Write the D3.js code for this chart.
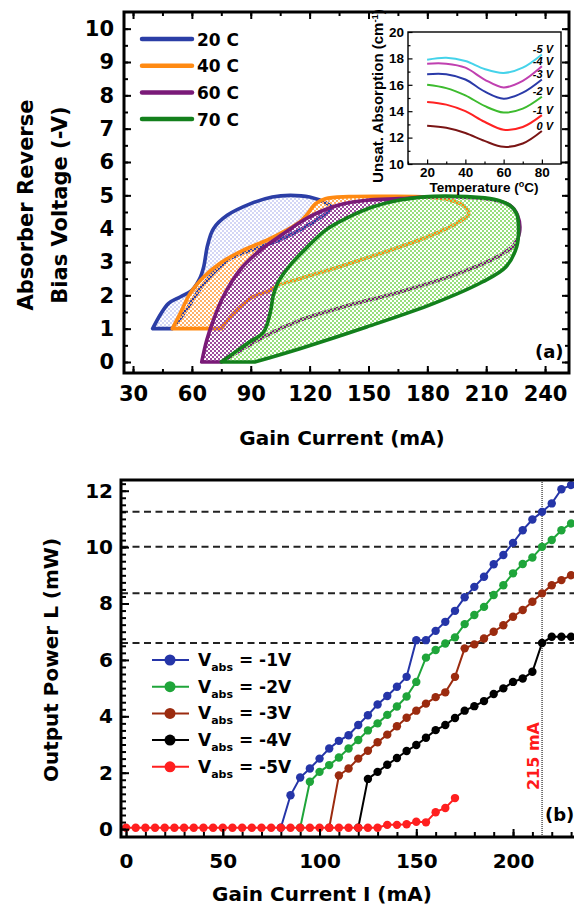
<!DOCTYPE html>
<html><head><meta charset="utf-8">
<script src="https://cdn.jsdelivr.net/npm/d3@7"></script>
<style>html,body{margin:0;padding:0;background:#fff;} svg{display:block;}</style>
</head><body><svg id="c" width="574" height="915"></svg>
<script>
// ---------- Panel (a): operating regions ----------
const tempLabels = ["20 C", "40 C", "60 C", "70 C"];
const tempColors = ["#2b3ea6", "#ff8a12", "#7a1a78", "#13801c"];
const hatchColors = ["#d3d6f5", "#ffb066", "#9c4c9c", "#97df7c"];
// [gain current mA, reverse bias -V] outline points
const region20C = [[50,1],[57,1.55],[63,2.1],[69,2.55],[75,2.9],[81,3.15],[95,3.45],[108,3.75],[122,4.2],[129,4.5],[131,4.65],[128,4.78],[120,4.95],[110,5.0],[101,4.95],[90,4.75],[78,4.4],[71,4.0],[68,3.5],[66,2.85],[64,2.5],[60,2.15],[54,1.95],[48,1.75],[40,1]];
const region40C = [[75,1],[81,1.45],[91,1.95],[100,2.15],[104,2.3],[115,2.5],[140,2.95],[166,3.45],[186,3.9],[196,4.2],[201,4.45],[198,4.7],[190,4.88],[180,4.95],[160,4.97],[140,4.96],[128,4.9],[123,4.75],[119,4.45],[115,4.2],[108,3.95],[98,3.65],[86,3.35],[74,2.95],[66,2.55],[59,2.05],[54,1.45],[50,1]];
const region60C = [[75,0],[98,0.8],[115,1.25],[140,1.7],[166,2.1],[200,2.75],[217,3.2],[224,3.5],[227,3.9],[226,4.4],[222,4.7],[212,4.88],[195,4.95],[180,4.95],[166,4.9],[149,4.85],[135,4.71],[125,4.5],[117,4.26],[107,3.86],[95,3.36],[84.5,2.76],[76,1.96],[71,1.26],[67.6,0.66],[65,0]];
const region70C = [[92,0],[115,0.4],[149,1.05],[183,1.75],[208,2.4],[220,2.85],[225.5,3.45],[226.5,3.95],[225.5,4.45],[222,4.7],[214,4.88],[200,4.96],[183,4.97],[166,4.86],[152,4.65],[140,4.35],[128,3.95],[118,3.4],[110,2.9],[104,2.4],[101.5,2.0],[100,1.5],[96.5,0.9],[88,0.55],[75,0]];
const regions = [region20C, region40C, region60C, region70C];
const topXTicks = [30, 60, 90, 120, 150, 180, 210, 240];
const topYTicks = [0, 1, 2, 3, 4, 5, 6, 7, 8, 9, 10];

// ---------- Inset: unsaturated absorption ----------
const insetTemps = [20, 30, 40, 50, 60, 70, 80];
const insetBias = ["0 V", "-1 V", "-2 V", "-3 V", "-4 V", "-5 V"];
const insetColors = ["#7a1515", "#ff2222", "#3dbb2e", "#2a3aa8", "#c040b0", "#45d3ea"];
const abs0V  = [12.9, 12.75, 12.35, 11.75, 11.3, 11.55, 12.5];
const absM1V = [14.7, 14.5, 14.0, 13.2, 12.6, 12.8, 13.7];
const absM2V = [16.0, 15.75, 15.2, 14.4, 13.9, 14.2, 15.1];
const absM3V = [16.8, 16.8, 16.4, 15.5, 14.95, 15.4, 16.4];
const absM4V = [17.6, 17.6, 17.3, 16.4, 15.8, 16.3, 17.4];
const absM5V = [17.9, 18.05, 17.8, 17.2, 16.9, 17.3, 18.3];
const insetSeries = [abs0V, absM1V, absM2V, absM3V, absM4V, absM5V];
const insetXTicks = [20, 40, 60, 80];
const insetYTicks = [10, 12, 14, 16, 18, 20];

// ---------- Panel (b): L-I curves ----------
const gainCurrent = [0,5,10,15,20,25,30,35,40,45,50,55,60,65,70,75,80,85,90,95,100,105,110,115,120,125,130,135,140,145,150,155,160,165,170,175,180,185,190,195,200,205,210,215,220,225,230];
const seriesNames = ["-1V", "-2V", "-3V", "-4V", "-5V"];
const seriesColors = ["#2535a8", "#1fa53a", "#9b2b0f", "#000000", "#ff1f1f"];
const seriesStart = [80, 90, 105, 120, 0];
const powerM1V = [0.05,1.2,1.83,2.15,2.5,2.86,3.13,3.33,3.69,4.04,4.42,4.72,5.05,5.4,6.7,6.7,7.03,7.35,7.74,8.22,8.59,8.95,9.39,9.72,10.15,10.6,10.98,11.25,11.55,12.05,12.2];
const powerM2V = [0.05,1.68,2.03,2.27,2.54,2.86,3.16,3.5,3.75,4.05,4.35,4.7,5.22,6.08,6.35,6.58,6.8,7.27,7.59,7.88,8.3,8.65,9.07,9.4,9.63,10.01,10.25,10.6,10.84];
const powerM3V = [0.05,1.9,2.15,2.5,2.78,3.08,3.35,3.65,3.95,4.2,4.45,4.68,4.85,5.4,6.41,6.55,6.76,7.0,7.23,7.53,7.77,8.06,8.36,8.65,8.83,9.0];
const powerM4V = [0.05,1.78,2.03,2.28,2.52,2.77,2.98,3.24,3.51,3.69,3.94,4.2,4.36,4.54,4.79,4.99,5.22,5.34,5.58,6.6,6.82,6.82,6.82];
const powerM5V = [0.05,0.05,0.05,0.05,0.05,0.05,0.05,0.05,0.05,0.05,0.05,0.05,0.05,0.05,0.05,0.05,0.05,0.05,0.05,0.05,0.05,0.05,0.05,0.05,0.05,0.05,0.05,0.15,0.15,0.17,0.26,0.24,0.6,0.75,1.1];
const powerSeries = [powerM1V, powerM2V, powerM3V, powerM4V, powerM5V];
const bottomXTicks = [0, 50, 100, 150, 200];
const bottomYTicks = [0, 2, 4, 6, 8, 10, 12];
const markerCurrent = 215;

// ================= drawing =================
const svg = d3.select("#c");
const HEAVY = "'DejaVu Sans', sans-serif";
const ARIAL = "'Liberation Sans', Arial, sans-serif";

// patterns
const defs = svg.append("defs");
hatchColors.forEach((c, i) => {
  const p = defs.append("pattern").attr("id", "hatch" + i).attr("width", 4).attr("height", 4)
    .attr("patternUnits", "userSpaceOnUse");
  p.append("rect").attr("x", 0).attr("y", 0).attr("width", 2).attr("height", 2).attr("fill", c);
  p.append("rect").attr("x", 2).attr("y", 2).attr("width", 2).attr("height", 2).attr("fill", c);
});

// ---- panel (a) ----
const ax = d3.scaleLinear().domain([25.4, 252.2]).range([124, 569]);
const ay = d3.scaleLinear().domain([-0.33, 10.5]).range([373, 12]);
const gA = svg.append("g");

const regionLine = d3.line().x(d => ax(d[0])).y(d => ay(d[1])).curve(d3.curveCatmullRom.alpha(0.5));
regions.forEach((r, i) => {
  gA.append("path").attr("d", regionLine(r) + "Z").attr("fill", "url(#hatch" + i + ")").attr("stroke", "none");
  gA.append("path").attr("d", regionLine(r) + "Z").attr("fill", "none")
    .attr("stroke", tempColors[i]).attr("stroke-width", 3.6).attr("stroke-linejoin", "round");
});

function styleAxis(g, size, family) {
  g.select(".domain").remove();
  g.selectAll(".tick line").attr("stroke", "#000").attr("stroke-width", 2);
  g.selectAll("text").attr("font-family", family).attr("font-weight", "bold").attr("font-size", size).attr("fill", "#000");
}
const minorX = d3.range(30, 241, 15), minorY = d3.range(0, 10.01, 0.5);
gA.append("g").attr("transform", "translate(0,373)").call(d3.axisBottom(ax).tickValues(minorX).tickSize(-4).tickFormat("")).call(g => styleAxis(g, 0, HEAVY));
gA.append("g").attr("transform", "translate(0,373)").call(d3.axisBottom(ax).tickValues(topXTicks).tickSize(-7).tickPadding(13)).call(g => styleAxis(g, "21px", HEAVY));
gA.append("g").attr("transform", "translate(0,12)").call(d3.axisTop(ax).tickValues(minorX).tickSize(-4).tickFormat("")).call(g => styleAxis(g, 0, HEAVY));
gA.append("g").attr("transform", "translate(0,12)").call(d3.axisTop(ax).tickValues(topXTicks).tickSize(-7).tickFormat("")).call(g => styleAxis(g, 0, HEAVY));
gA.append("g").attr("transform", "translate(124,0)").call(d3.axisLeft(ay).tickValues(minorY).tickSize(-4).tickFormat("")).call(g => styleAxis(g, 0, HEAVY));
gA.append("g").attr("transform", "translate(124,0)").call(d3.axisLeft(ay).tickValues(topYTicks).tickSize(-7).tickPadding(10)).call(g => styleAxis(g, "21px", HEAVY));
gA.append("g").attr("transform", "translate(569,0)").call(d3.axisRight(ay).tickValues(minorY).tickSize(-4).tickFormat("")).call(g => styleAxis(g, 0, HEAVY));
gA.append("g").attr("transform", "translate(569,0)").call(d3.axisRight(ay).tickValues(topYTicks).tickSize(-7).tickFormat("")).call(g => styleAxis(g, 0, HEAVY));
gA.append("rect").attr("x", 124).attr("y", 12).attr("width", 445).attr("height", 361)
  .attr("fill", "none").attr("stroke", "#000").attr("stroke-width", 3);

// legend (a)
tempLabels.forEach((t, i) => {
  const yy = 39 + i * 26.7;
  gA.append("line").attr("x1", 142).attr("x2", 192).attr("y1", yy).attr("y2", yy)
    .attr("stroke", tempColors[i]).attr("stroke-width", 4.5).attr("stroke-linecap", "round");
  gA.append("text").attr("x", 197).attr("y", yy + 6.5).text(t)
    .attr("font-family", HEAVY).attr("font-weight", "bold").attr("font-size", "17px");
});

// axis titles (a)
gA.append("text").attr("transform", "translate(33,205) rotate(-90)").attr("text-anchor", "middle")
  .attr("font-family", HEAVY).attr("font-weight", "bold").attr("font-size", "21px").text("Absorber Reverse");
gA.append("text").attr("transform", "translate(67,205) rotate(-90)").attr("text-anchor", "middle")
  .attr("font-family", HEAVY).attr("font-weight", "bold").attr("font-size", "21px").text("Bias Voltage (-V)");
gA.append("text").attr("x", 342).attr("y", 445).attr("text-anchor", "middle")
  .attr("font-family", HEAVY).attr("font-weight", "bold").attr("font-size", "20px").text("Gain Current (mA)");
gA.append("text").attr("x", 535).attr("y", 358)
  .attr("font-family", HEAVY).attr("font-weight", "bold").attr("font-size", "18px").text("(a)");

// ---- inset ----
const ix = d3.scaleLinear().domain([10, 90]).range([408, 561]);
const iy = d3.scaleLinear().domain([10, 20]).range([164, 32]);
const gI = svg.append("g");
gI.append("rect").attr("x", 408).attr("y", 32).attr("width", 153).attr("height", 132).attr("fill", "#fff");
const insetLine = d3.line().x((d, i) => ix(insetTemps[i])).y(d => iy(d)).curve(d3.curveCatmullRom.alpha(0.5));
insetSeries.forEach((s, i) => {
  gI.append("path").attr("d", insetLine(s)).attr("fill", "none").attr("stroke", insetColors[i]).attr("stroke-width", 2);
  gI.append("text").attr("x", 553).attr("y", iy(s[s.length - 1]) - 1.5).attr("text-anchor", "end")
    .attr("font-family", ARIAL).attr("font-weight", "bold").attr("font-style", "italic").attr("font-size", "11px")
    .text(insetBias[i]);
});
function styleInset(g) {
  g.select(".domain").remove();
  g.selectAll(".tick line").attr("stroke", "#000").attr("stroke-width", 1.2);
  g.selectAll("text").attr("font-family", ARIAL).attr("font-weight", "bold").attr("font-size", "13.5px").attr("fill", "#000");
}
gI.append("g").attr("transform", "translate(0,164)").call(d3.axisBottom(ix).tickValues([10,30,50,70,90]).tickSize(-2.5).tickFormat("")).call(styleInset);
gI.append("g").attr("transform", "translate(0,164)").call(d3.axisBottom(ix).tickValues(insetXTicks).tickSize(-4.5).tickPadding(3)).call(styleInset);
gI.append("g").attr("transform", "translate(408,0)").call(d3.axisLeft(iy).tickValues([11,13,15,17,19]).tickSize(-2.5).tickFormat("")).call(styleInset);
gI.append("g").attr("transform", "translate(408,0)").call(d3.axisLeft(iy).tickValues(insetYTicks).tickSize(-4.5).tickPadding(4)).call(styleInset);
gI.append("rect").attr("x", 408).attr("y", 32).attr("width", 153).attr("height", 132)
  .attr("fill", "none").attr("stroke", "#000").attr("stroke-width", 1.4);
const xl = gI.append("text").attr("x", 484).attr("y", 192).attr("text-anchor", "middle")
  .attr("font-family", ARIAL).attr("font-weight", "bold").attr("font-size", "13.5px");
xl.append("tspan").text("Temperature (");
xl.append("tspan").attr("dy", -5).attr("font-size", "9px").text("o");
xl.append("tspan").attr("dy", 5).text("C)");
const yl = gI.append("text").attr("transform", "translate(383,96) rotate(-90)").attr("text-anchor", "middle")
  .attr("font-family", ARIAL).attr("font-weight", "bold").attr("font-size", "15px");
yl.append("tspan").text("Unsat. Absorption (cm");
yl.append("tspan").attr("dy", -5).attr("font-size", "9.5px").text("-1");
yl.append("tspan").attr("dy", 5).text(")");

// ---- panel (b) ----
const bx = d3.scaleLinear().domain([-2.6, 231.5]).range([121, 574]);
const by = d3.scaleLinear().domain([-0.28, 12.38]).range([837, 480]);
const gB = svg.append("g");

const refIdx = gainCurrent.indexOf(markerCurrent);
[0, 1, 2, 3].forEach(k => {
  const v = powerSeries[k][refIdx - gainCurrent.indexOf(seriesStart[k])];
  gB.append("line").attr("x1", 121).attr("x2", 574).attr("y1", by(v)).attr("y2", by(v))
    .attr("stroke", "#222").attr("stroke-width", 2).attr("stroke-dasharray", "7,4.5");
});
gB.append("line").attr("x1", bx(markerCurrent)).attr("x2", bx(markerCurrent)).attr("y1", 480).attr("y2", 837)
  .attr("stroke", "#444").attr("stroke-width", 1.4).attr("stroke-dasharray", "1,1");

const lLine = d3.line().x(d => bx(d[0])).y(d => by(d[1]));
[3, 2, 1, 0, 4].forEach(k => {
  const off = gainCurrent.indexOf(seriesStart[k]);
  const pts = powerSeries[k].map((v, i) => [gainCurrent[off + i], v]);
  const g = gB.append("g");
  g.append("path").attr("d", lLine(pts)).attr("fill", "none").attr("stroke", seriesColors[k]).attr("stroke-width", 2);
  g.selectAll("circle").data(pts).enter().append("circle")
    .attr("cx", d => bx(d[0])).attr("cy", d => by(d[1])).attr("r", 4.2).attr("fill", seriesColors[k]);
});

function styleB(g, size) {
  g.select(".domain").remove();
  g.selectAll(".tick line").attr("stroke", "#000").attr("stroke-width", 2);
  g.selectAll("text").attr("font-family", HEAVY).attr("font-weight", "bold").attr("font-size", size).attr("fill", "#000");
}
gB.append("g").attr("transform", "translate(0,837)").call(d3.axisBottom(bx).tickValues(d3.range(0, 231, 10)).tickSize(-5).tickFormat("")).call(g => styleB(g, 0));
gB.append("g").attr("transform", "translate(0,837)").call(d3.axisBottom(bx).tickValues(bottomXTicks).tickSize(-8).tickPadding(17)).call(g => styleB(g, "20px"));
gB.append("g").attr("transform", "translate(121,0)").call(d3.axisLeft(by).tickValues(d3.range(0, 12.3, 0.25)).tickSize(-5).tickFormat("")).call(g => styleB(g, 0));
gB.append("g").attr("transform", "translate(121,0)").call(d3.axisLeft(by).tickValues(bottomYTicks).tickSize(-8).tickPadding(8)).call(g => styleB(g, "20px"));
gB.append("path").attr("d", "M574,480H121V837H574").attr("fill", "none").attr("stroke", "#000").attr("stroke-width", 3);

// legend (b)
seriesNames.forEach((n, i) => {
  const yy = 660 + i * 26.7;
  gB.append("line").attr("x1", 152).attr("x2", 189).attr("y1", yy).attr("y2", yy).attr("stroke", seriesColors[i]).attr("stroke-width", 2);
  gB.append("circle").attr("cx", 170).attr("cy", yy).attr("r", 5.5).attr("fill", seriesColors[i]);
  const t = gB.append("text").attr("x", 198).attr("y", yy + 6).attr("font-family", HEAVY).attr("font-weight", "bold").attr("font-size", "17px");
  t.append("tspan").text("V");
  t.append("tspan").attr("dy", 5).attr("font-size", "11px").text("abs");
  t.append("tspan").attr("dy", -5).text(" = " + n);
});

gB.append("text").attr("transform", "translate(" + (bx(markerCurrent) - 3) + ",756) rotate(-90)").attr("text-anchor", "middle")
  .attr("font-family", HEAVY).attr("font-weight", "bold").attr("font-size", "16px").attr("fill", "#ff1a1a").text("215 mA");
gB.append("text").attr("x", 545).attr("y", 821).attr("font-family", HEAVY).attr("font-weight", "bold").attr("font-size", "18px").text("(b)");
gB.append("text").attr("transform", "translate(58,660) rotate(-90)").attr("text-anchor", "middle")
  .attr("font-family", HEAVY).attr("font-weight", "bold").attr("font-size", "20px").text("Output Power L (mW)");
gB.append("text").attr("x", 322).attr("y", 901).attr("text-anchor", "middle")
  .attr("font-family", HEAVY).attr("font-weight", "bold").attr("font-size", "20px").text("Gain Current I (mA)");
</script></body></html>
